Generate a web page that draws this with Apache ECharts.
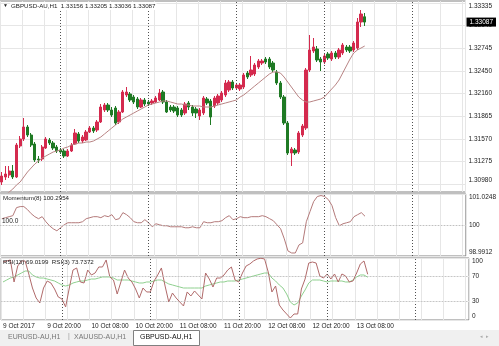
<!DOCTYPE html>
<html><head><meta charset="utf-8">
<script src="https://cdn.jsdelivr.net/npm/echarts@6/dist/echarts.min.js"></script>
<style>html,body{margin:0;padding:0;background:#fff;overflow:hidden}#c{width:499px;height:346px}</style>
</head><body><div id="c"></div>
<script>
// ---- data ----
const opens = [1.31008,1.31073,1.31099,1.31151,1.31073,1.31476,1.31567,1.31723,1.31619,1.31502,
1.31307,1.31307,1.31450,1.31554,1.31515,1.31463,1.31424,1.31411,1.31346,1.31411,
1.31502,1.31632,1.31541,1.31554,1.31658,1.31710,1.31684,1.31788,1.31944,1.32009,
1.31944,1.31970,1.31788,1.31918,1.32139,1.32152,1.32113,1.32087,1.31983,1.32074,
1.32048,1.32035,1.32048,1.32074,1.32178,1.32048,1.31983,1.31983,1.31970,1.31944,
1.31905,1.32035,1.31983,1.31957,1.31866,1.31905,1.32087,1.32061,1.31996,1.32035,
1.32074,1.32139,1.32204,1.32308,1.32230,1.32217,1.32243,1.32425,1.32399,1.32412,
1.32503,1.32555,1.32607,1.32607,1.32555,1.32438,1.32295,1.32113,1.31775,1.31385,
1.31424,1.31398,1.31619,1.31710,1.32464,1.32711,1.32737,1.32607,1.32568,1.32672,
1.32607,1.32685,1.32633,1.32685,1.32763,1.32763,1.32724,1.32750,1.33088,1.33156];
const closes = [1.31086,1.31112,1.31151,1.31073,1.31489,1.31567,1.31723,1.31619,1.31489,1.31294,
1.31294,1.31463,1.31567,1.31515,1.31450,1.31411,1.31398,1.31346,1.31411,1.31489,
1.31645,1.31541,1.31593,1.31658,1.31710,1.31671,1.31788,1.31983,1.32009,1.31944,
1.31879,1.31775,1.31918,1.32178,1.32178,1.32074,1.32048,1.31983,1.32074,1.32022,
1.32022,1.32061,1.32100,1.32165,1.32048,1.31918,1.31944,1.31931,1.31879,1.31879,
1.32022,1.31983,1.31905,1.31905,1.31944,1.32100,1.32035,1.31853,1.32100,1.32126,
1.32165,1.32295,1.32308,1.32230,1.32269,1.32269,1.32399,1.32373,1.32464,1.32529,
1.32581,1.32581,1.32568,1.32503,1.32464,1.32295,1.32113,1.31775,1.31385,1.31437,
1.31385,1.31645,1.31736,1.32464,1.32724,1.32763,1.32594,1.32568,1.32646,1.32620,
1.32685,1.32633,1.32724,1.32789,1.32724,1.32711,1.32815,1.33088,1.33192,1.33087];
const highs = [1.31138,1.31216,1.31216,1.31229,1.31515,1.31606,1.31840,1.31749,1.31645,1.31528,
1.31346,1.31489,1.31593,1.31580,1.31541,1.31489,1.31450,1.31437,1.31437,1.31515,
1.31697,1.31658,1.31619,1.31684,1.31736,1.31736,1.31814,1.32022,1.32035,1.32035,
1.31983,1.31996,1.31944,1.32204,1.32243,1.32178,1.32139,1.32113,1.32100,1.32100,
1.32074,1.32087,1.32126,1.32217,1.32204,1.32074,1.32009,1.32009,1.31996,1.31970,
1.32048,1.32061,1.32009,1.31983,1.31970,1.32126,1.32113,1.32087,1.32126,1.32152,
1.32191,1.32334,1.32334,1.32334,1.32295,1.32295,1.32425,1.32451,1.32646,1.32555,
1.32607,1.32607,1.32633,1.32633,1.32581,1.32464,1.32321,1.32139,1.31801,1.31463,
1.31450,1.31671,1.31762,1.32490,1.32919,1.32880,1.32776,1.32633,1.32672,1.32698,
1.32711,1.32711,1.32750,1.32815,1.32789,1.32789,1.32841,1.33140,1.33244,1.33205];
const lows = [1.30969,1.31034,1.31060,1.31047,1.31060,1.31450,1.31541,1.31593,1.31463,1.31268,
1.31255,1.31281,1.31437,1.31489,1.31424,1.31385,1.31372,1.31320,1.31333,1.31398,
1.31489,1.31515,1.31515,1.31541,1.31645,1.31645,1.31658,1.31775,1.31918,1.31918,
1.31853,1.31749,1.31762,1.31905,1.32113,1.32048,1.32022,1.31957,1.31970,1.31996,
1.31996,1.32009,1.32035,1.32061,1.32022,1.31905,1.31918,1.31905,1.31853,1.31853,
1.31879,1.31944,1.31866,1.31840,1.31814,1.31879,1.32009,1.31749,1.31970,1.32009,
1.32048,1.32113,1.32178,1.32204,1.32204,1.32191,1.32217,1.32347,1.32373,1.32386,
1.32477,1.32529,1.32542,1.32477,1.32438,1.32269,1.32087,1.31749,1.31359,1.31216,
1.31359,1.31372,1.31593,1.31684,1.32438,1.32685,1.32568,1.32451,1.32542,1.32594,
1.32581,1.32607,1.32607,1.32659,1.32698,1.32685,1.32698,1.32724,1.33023,1.33036];
const maValues = [1.30813,1.30839,1.30878,1.30917,1.30969,1.31008,1.31073,1.31138,1.31190,1.31242,
1.31281,1.31320,1.31346,1.31372,1.31398,1.31411,1.31424,1.31450,1.31463,1.31489,
1.31502,1.31515,1.31515,1.31528,1.31528,1.31541,1.31567,1.31593,1.31632,1.31671,
1.31710,1.31749,1.31788,1.31827,1.31853,1.31879,1.31905,1.31931,1.31957,1.31983,
1.32009,1.32022,1.32035,1.32048,1.32061,1.32061,1.32048,1.32035,1.32022,1.32022,
1.32009,1.32009,1.31996,1.31996,1.31996,1.31983,1.31983,1.31983,1.31996,1.32009,
1.32022,1.32035,1.32048,1.32061,1.32074,1.32113,1.32139,1.32178,1.32217,1.32256,
1.32295,1.32334,1.32373,1.32412,1.32438,1.32438,1.32425,1.32373,1.32308,1.32243,
1.32178,1.32113,1.32074,1.32048,1.32048,1.32061,1.32074,1.32087,1.32113,1.32165,
1.32217,1.32269,1.32334,1.32425,1.32516,1.32607,1.32685,1.32724,1.32750,1.32776];
const momentum = [100.215,100.248,100.281,100.314,100.578,100.612,100.612,100.512,100.380,100.281,
100.215,100.281,100.116,99.983,99.884,99.818,99.917,100.016,100.082,100.082,
100.082,100.082,100.116,100.215,100.248,100.281,100.281,100.248,100.314,100.281,
100.347,100.182,100.215,100.413,100.347,100.248,100.116,100.082,100.082,100.182,
100.082,99.950,100.049,100.016,99.983,99.983,99.950,99.950,99.950,99.950,
99.917,99.917,99.950,99.917,99.917,100.116,100.082,100.082,100.116,100.116,
100.149,100.248,100.314,100.182,100.215,100.281,100.248,100.248,100.281,100.281,
100.281,100.314,100.281,100.215,100.149,100.016,99.884,99.553,99.157,99.090,
99.090,99.355,99.421,100.116,100.446,100.777,100.942,100.975,100.942,100.843,
100.645,100.248,99.983,100.049,100.082,100.116,100.281,100.347,100.413,100.2954];
const rsi3 = [93.5,95.2,96.8,61.3,87.1,95.2,95.2,74.2,51.6,35.5,
27.4,51.6,62.9,59.7,50.0,37.1,33.9,21.0,51.6,80.6,
83.9,61.3,59.7,80.6,72.6,75.8,85.5,85.5,96.8,69.4,
64.5,41.9,61.3,80.6,67.7,61.3,50.0,35.5,51.6,45.2,
45.2,62.9,72.6,83.9,54.8,29.0,43.5,35.5,29.0,22.6,
45.2,38.7,46.8,40.3,33.9,75.8,66.1,53.2,67.7,67.7,
72.6,80.6,85.5,64.5,61.3,75.8,87.1,90.3,95.2,98.4,
99.6,98.4,77.4,45.2,54.8,24.2,16.1,9.7,3.2,9.7,
9.7,50.0,66.1,91.9,93.5,91.9,71.0,67.7,74.2,66.1,
74.2,61.3,74.2,71.0,61.3,62.9,75.8,90.3,95.2,73.7372];
const rsi13 = [61.3,64.5,67.7,69.4,72.6,75.8,79.0,79.0,72.6,69.4,
67.7,67.7,66.1,64.5,62.9,59.7,56.5,54.8,56.5,59.7,
61.3,62.9,62.9,64.5,66.1,66.1,67.7,69.4,69.4,69.4,
67.7,64.5,64.5,64.5,64.5,62.9,61.3,59.7,59.7,61.3,
61.3,62.9,64.5,64.5,61.3,58.1,56.5,54.8,53.2,51.6,
51.6,51.6,51.6,51.6,51.6,54.8,56.5,58.1,59.7,61.3,
61.3,62.9,62.9,62.9,64.5,66.1,67.7,69.4,71.0,72.6,
74.2,75.8,75.8,67.7,62.9,56.5,51.6,41.9,29.0,24.2,
27.4,38.7,48.4,59.7,64.5,64.5,64.5,62.9,61.3,62.9,
62.9,62.9,62.9,61.3,61.3,64.5,69.4,72.6,72.6,69.0199];
const priceTicks = [1.30980,1.31275,1.31570,1.31865,1.32160,1.32450,1.32745,1.33040,1.33335];
const lastPrice = [1.33087];
const momTicks = [98.9912,100,101.0248];
const rsiTicks = [0,30,70,100];
const timeLabels = ['9 Oct 2017','9 Oct 20:00','10 Oct 08:00','10 Oct 20:00','11 Oct 08:00','11 Oct 20:00','12 Oct 08:00','12 Oct 20:00','13 Oct 08:00'];
const daySeparators = [16,40,64,88,112];
const SLOTS = 127;
const MON = ['Jan','Feb','Mar','Apr','May','Jun','Jul','Aug','Sep','Oct','Nov','Dec'];
const categories = [];
for (let i = 0; i < SLOTS; i++) {
  const d = new Date(Date.UTC(2017, 9, 9, 8 + i));
  categories.push(d.getUTCDate() + ' ' + MON[d.getUTCMonth()] + ' ' + String(d.getUTCHours()).padStart(2,'0') + ':00');
}
const candles = opens.map((o, i) => [o, closes[i], lows[i], highs[i]]);

// ---- chart ----
const FONT = 'Liberation Sans';
const BULL = '#d42a4e', BEAR = '#1f7a24';
const gridLine = '#e6e6e6';
const chart = echarts.init(document.getElementById('c'), null, {renderer: 'canvas'});
const xBase = (gi, showLabel) => ({
  type: 'category', gridIndex: gi, data: categories, boundaryGap: true,
  axisLine: {show: false}, axisTick: {show: false},
  axisLabel: showLabel ? {
    show: true, fontFamily: FONT, fontSize: 6.5, color: '#222', align: 'left', margin: 3,
    interval: (idx) => idx % 12 === 0 && idx / 12 < timeLabels.length,
    formatter: (v, idx) => timeLabels[Math.round(idx / 12)] || ''
  } : {show: false},
  splitLine: {show: true, interval: (idx) => idx % 6 === 0, lineStyle: {color: gridLine, width: 1}}
});
const ySide = (gi, min, max, ticks, fmt) => ({
  type: 'value', gridIndex: gi, position: 'right', min: min, max: max, scale: true,
  axisLine: {show: false},
  axisTick: {show: false, customValues: ticks},
  axisLabel: {show: true, customValues: ticks, formatter: fmt, fontFamily: FONT, fontSize: 6.5, color: '#222', margin: 3,
    verticalAlignMaxLabel: 'top', verticalAlignMinLabel: 'bottom'},
  splitLine: {show: true, lineStyle: {color: gridLine, width: 1}}
});
const sepLine = () => ({
  silent: true, symbol: ['none', 'none'], label: {show: false}, animation: false,
  lineStyle: {color: '#505050', type: [1, 2], width: 1},
  data: daySeparators.map(i => ({xAxis: i}))
});
const option = {
  animation: false,
  backgroundColor: '#ffffff',
  grid: [
    {left: 0, right: 30, top: 1, height: 191, show: true, borderColor: '#808080', borderWidth: 1},
    {left: 0, right: 30, top: 194, height: 62, show: true, borderColor: '#808080', borderWidth: 1},
    {left: 0, right: 30, top: 258, height: 62, show: true, borderColor: '#808080', borderWidth: 1}
  ],
  xAxis: [xBase(0, false), xBase(1, false), xBase(2, true)],
  yAxis: [
    ySide(0, 1.30878, 1.33361, priceTicks, v => v.toFixed(5)),
    ySide(1, 98.9912, 101.0248, momTicks, v => v === 100 ? '100' : v.toFixed(4)),
    ySide(2, 0, 100, rsiTicks, v => String(v)),
    {type: 'value', gridIndex: 0, position: 'right', min: 1.30878, max: 1.33361,
      axisLine: {show: false}, splitLine: {show: false},
      axisTick: {show: false, customValues: lastPrice},
      axisLabel: {show: true, customValues: lastPrice, formatter: v => v.toFixed(5), fontFamily: FONT, fontSize: 6.5,
        color: '#fff', backgroundColor: '#000', padding: [1, 3, 1, 3], margin: 1}}
  ],
  series: [
    {type: 'candlestick', xAxisIndex: 0, yAxisIndex: 0, data: candles, barWidth: 2.8,
      itemStyle: {color: BULL, color0: BEAR, borderColor: BULL, borderColor0: BEAR, borderWidth: 1}},
    {type: 'line', xAxisIndex: 0, yAxisIndex: 0, data: maValues, symbol: 'none', lineStyle: {color: '#b88484', width: 1}, markLine: sepLine()},
    {type: 'line', xAxisIndex: 1, yAxisIndex: 1, data: momentum, symbol: 'none', lineStyle: {color: '#b47a7a', width: 1},
      markLine: sepLine()},
    {type: 'line', xAxisIndex: 1, yAxisIndex: 1, data: [], symbol: 'none',
      markLine: {silent: true, symbol: ['none', 'none'], animation: false,
        lineStyle: {color: '#c0c0c0', type: [1, 2], width: 1},
        label: {show: true, position: 'insideStartTop', distance: [2, 1], formatter: '100.0', color: '#222', fontFamily: FONT, fontSize: 6.5},
        data: [{yAxis: 100}]}},
    {type: 'line', xAxisIndex: 2, yAxisIndex: 2, data: rsi13, symbol: 'none', lineStyle: {color: '#8fd08f', width: 1},
      markLine: sepLine()},
    {type: 'line', xAxisIndex: 2, yAxisIndex: 2, data: rsi3, symbol: 'none', lineStyle: {color: '#b06a6a', width: 1},
      markLine: {silent: true, symbol: ['none', 'none'], animation: false, label: {show: false},
        lineStyle: {color: '#c0c0c0', type: [1, 2], width: 1},
        data: [{yAxis: 30}, {yAxis: 70}]}}
  ],
  graphic: [
    {type: 'text', z: 100, left: 3, top: 3, style: {text: '\u25BC', fontSize: 5, fill: '#222', fontFamily: FONT}},
    {type: 'text', z: 100, left: 10, top: 2, style: {text: 'GBPUSD-AU,H1  1.33156 1.33205 1.33036 1.33087', fontSize: 6.2, fill: '#222', fontFamily: FONT, backgroundColor: '#fff', padding: [1, 1]}},
    {type: 'text', z: 100, left: 3, top: 195, style: {text: 'Momentum(8) 100.2954', fontSize: 6.2, fill: '#222', fontFamily: FONT}},
    {type: 'text', z: 100, left: 3, top: 259, style: {text: 'RSI(13) 69.0199  RSI(3) 73.7372', fontSize: 6.2, fill: '#222', fontFamily: FONT}},
    {type: 'rect', z: 100, left: 0, top: 330, shape: {width: 499, height: 16}, style: {fill: '#f0f0f0'}},
    {type: 'rect', z: 101, left: 133, top: 330, shape: {width: 66, height: 15}, style: {fill: '#fff', stroke: '#808080', lineWidth: 1}},
    {type: 'text', z: 102, left: 8, top: 334, style: {text: 'EURUSD-AU,H1', fontSize: 7, fill: '#777', fontFamily: FONT}},
    {type: 'text', z: 102, left: 68, top: 333, style: {text: '|', fontSize: 7, fill: '#999', fontFamily: FONT}},
    {type: 'text', z: 102, left: 74, top: 334, style: {text: 'XAUUSD-AU,H1', fontSize: 7, fill: '#777', fontFamily: FONT}},
    {type: 'text', z: 102, left: 140, top: 334, style: {text: 'GBPUSD-AU,H1', fontSize: 7, fill: '#111', fontFamily: FONT}},
    {type: 'text', z: 102, left: 480, top: 334, style: {text: '\u25C2  \u25B8', fontSize: 5, fill: '#aaa', fontFamily: FONT}}
  ]
};
chart.setOption(option);
</script>
</body></html>
